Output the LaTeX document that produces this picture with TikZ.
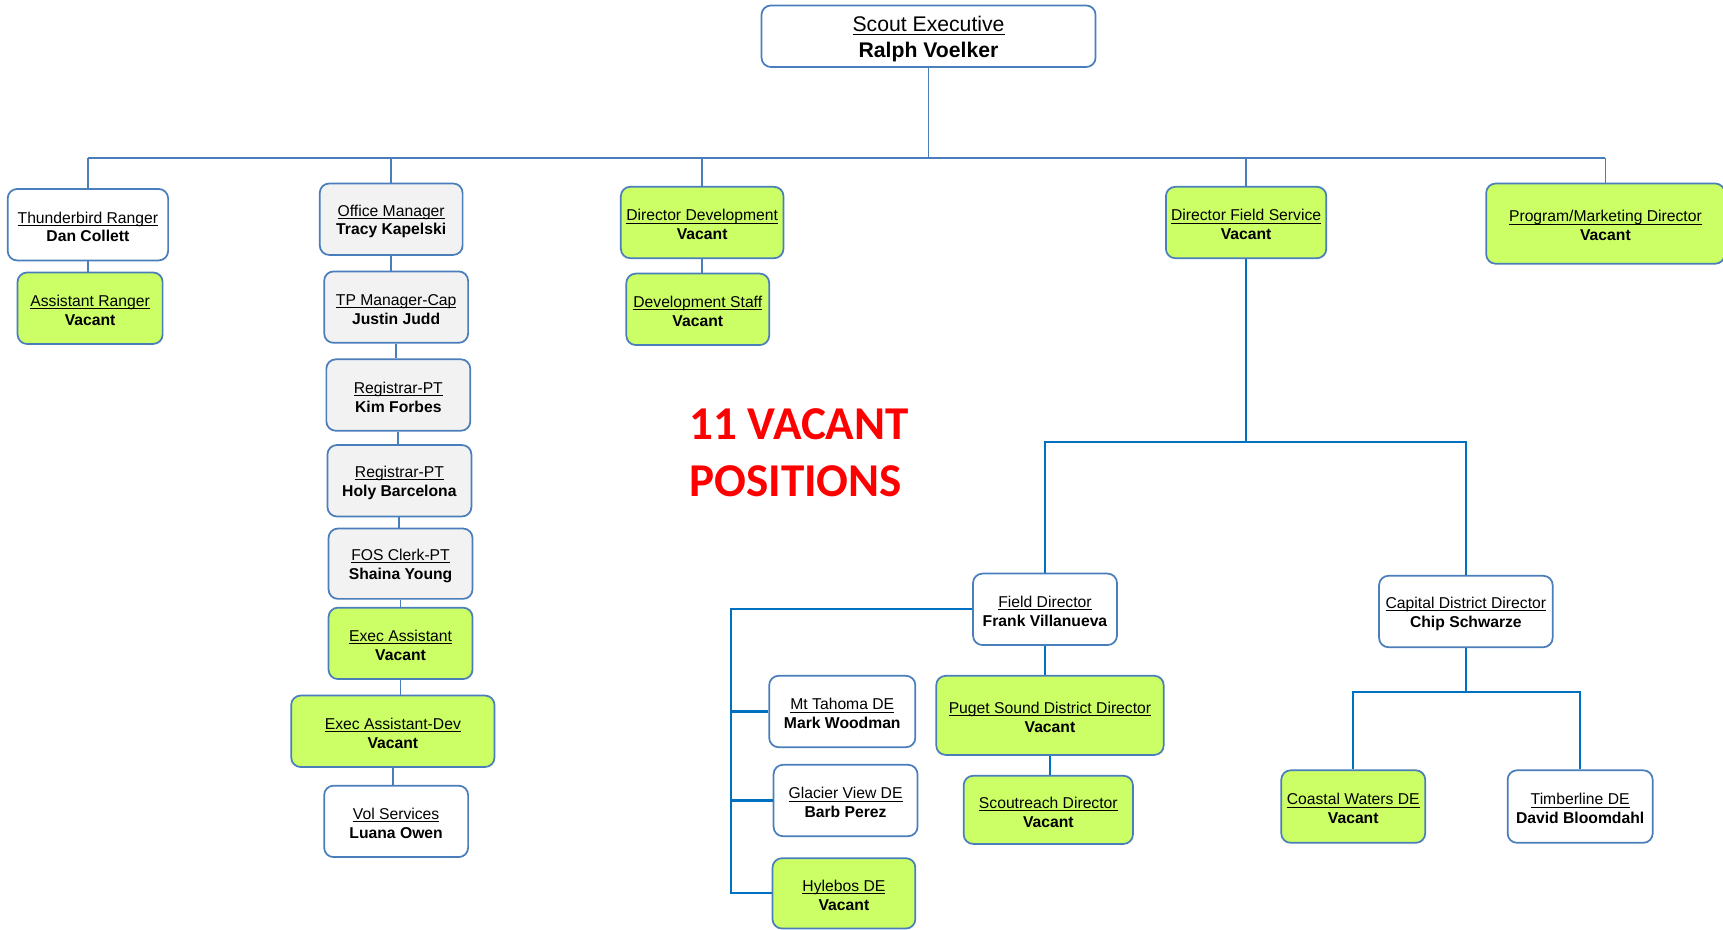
\documentclass[tikz,border=0pt]{standalone}
\usepackage{fontspec}
\setmainfont{Liberation Sans}
\newfontfamily\bannerfont{Carlito}

\definecolor{boxblue}{HTML}{4A7EBB}
\definecolor{branchblue}{HTML}{0070C0}
\definecolor{vacantgreen}{HTML}{CCFF66}
\definecolor{staffgray}{HTML}{F2F2F2}

\newcommand{\ulined}[1]{\leavevmode\setbox0=\hbox{#1}\rlap{\rule[-1.6pt]{\wd0}{0.5pt}}\box0}
\newcommand{\orgentry}[2]{\rule{0pt}{1em}\ulined{#1}\\\textbf{#2}}

\tikzset{
	orgbox/.style={draw=boxblue, line width=1.1pt, rounded corners=6pt, fill=white,
		align=center, inner sep=0pt, font=\fontsize{10}{12}\selectfont},
	vacant/.style={orgbox, fill=vacantgreen},
	staff/.style={orgbox, fill=staffgray},
	boxsize/.style 2 args={minimum width=#1*0.7pt, minimum height=#2*0.7pt},
	link/.style={draw=boxblue, line width=1.2pt},
	fieldlink/.style={draw=branchblue, line width=1.4pt},
}

\begin{document}
\begin{tikzpicture}[x=0.7pt, y=-0.7pt]
	\useasboundingbox (0,0) rectangle (1568,846);

	% top
	\node[orgbox, boxsize={304}{56}, font=\fontsize{13.5}{16.2}\selectfont] (exec) at (845,33)
		{\orgentry{Scout Executive}{Ralph Voelker}};

	% first row
	\node[orgbox, boxsize={146}{65}] (thunder)   at (80,204.5)
		{\orgentry{Thunderbird Ranger}{Dan Collett}};
	\node[staff,  boxsize={130}{65}] (office)    at (356,199.5)
		{\orgentry{Office Manager}{Tracy Kapelski}};
	\node[vacant, boxsize={148}{65}] (dirdev)    at (639,202.5)
		{\orgentry{Director Development}{Vacant}};
	\node[vacant, boxsize={146}{65}] (dfs)       at (1134,202.5)
		{\orgentry{Director Field Service}{Vacant}};
	\node[vacant, boxsize={217}{73}] (program)   at (1461,203.5)
		{\orgentry{Program/Marketing Director}{Vacant}};

	% under the first row
	\node[vacant, boxsize={132}{65}] (asstranger) at (82,280.5)
		{\orgentry{Assistant Ranger}{Vacant}};
	\node[vacant, boxsize={130}{65}] (devstaff)  at (635,281.5)
		{\orgentry{Development Staff}{Vacant}};

	% office column
	\node[staff,  boxsize={131}{65}] (tpman)     at (360.5,279.5)
		{\orgentry{TP Manager-Cap}{Justin Judd}};
	\node[staff,  boxsize={131}{65}] (regkim)    at (362.5,359.5)
		{\orgentry{Registrar-PT}{Kim Forbes}};
	\node[staff,  boxsize={131}{65}] (regholy)   at (363.5,437.5)
		{\orgentry{Registrar-PT}{Holy Barcelona}};
	\node[staff,  boxsize={131}{64}] (fos)       at (364.5,513)
		{\orgentry{FOS Clerk-PT}{Shaina Young}};
	\node[vacant, boxsize={131}{65}] (execasst)  at (364.5,585.5)
		{\orgentry{Exec Assistant}{Vacant}};
	\node[vacant, boxsize={185}{65}] (execdev)   at (357.5,665.5)
		{\orgentry{Exec Assistant-Dev}{Vacant}};
	\node[orgbox, boxsize={131}{65}] (volserv)   at (360.5,747.5)
		{\orgentry{Vol Services}{Luana Owen}};

	% field service
	\node[orgbox, boxsize={131}{65}] (fielddir)  at (951,554.5)
		{\orgentry{Field Director}{Frank Villanueva}};
	\node[orgbox, boxsize={158}{65}] (capital)   at (1334,556.5)
		{\orgentry{Capital District Director}{Chip Schwarze}};
	\node[orgbox, boxsize={133}{65}] (tahoma)    at (766.5,647.5)
		{\orgentry{Mt Tahoma DE}{Mark Woodman}};
	\node[orgbox, boxsize={131}{65}] (glacier)   at (769.5,728.5)
		{\orgentry{Glacier View DE}{Barb Perez}};
	\node[vacant, boxsize={130}{64}] (hylebos)   at (768,813)
		{\orgentry{Hylebos DE}{Vacant}};
	\node[vacant, boxsize={207}{72}] (puget)     at (955.5,651)
		{\orgentry{Puget Sound District Director}{Vacant}};
	\node[vacant, boxsize={154}{62}] (scoutreach) at (954,737)
		{\orgentry{Scoutreach Director}{Vacant}};
	\node[vacant, boxsize={131}{66}] (coastal)   at (1231.5,734)
		{\orgentry{Coastal Waters DE}{Vacant}};
	\node[orgbox, boxsize={132}{66}] (timber)    at (1438,734)
		{\orgentry{Timberline DE}{David Bloomdahl}};

	\node[anchor=north west, align=left, inner sep=0pt, text=red,
		font=\bannerfont\bfseries\fontsize{30}{36}\selectfont] (vacancies) at (627,372)
		{11 VACANT\\POSITIONS};

	% connectors
	\coordinate (bus) at (0,144);
	\draw[link] (thunder |- bus) -- (program |- bus);
	\draw[link] (exec) -- (exec |- bus);
	\foreach \n in {thunder, office, dirdev, dfs, program}
		\draw[link] (\n) -- (\n |- bus);
	\foreach \a/\b in {thunder/asstranger, dirdev/devstaff, office/tpman, tpman/regkim,
		regkim/regholy, regholy/fos, fos/execasst, execasst/execdev, execdev/volserv}
		\draw[link] (\a.south) -- (\a.south |- \b.north);

	\coordinate (fieldsplit) at (1134,402);
	\draw[fieldlink] (dfs) -- (dfs |- fieldsplit);
	\draw[fieldlink] (fielddir) -- (fielddir |- fieldsplit) -- (capital |- fieldsplit) -- (capital);

	\coordinate (despine) at (665,0);
	\draw[fieldlink] (fielddir.west) -- (fielddir.west -| despine) |- (hylebos.west);
	\foreach \n in {tahoma, glacier}
		\draw[fieldlink] (\n.west) -- (\n.west -| despine);
	\draw[fieldlink] (fielddir.south) -- (fielddir.south |- puget.north);
	\draw[fieldlink] (puget.south) -- (puget.south |- scoutreach.north);

	\coordinate (capsplit) at (0,630);
	\draw[fieldlink] (capital) -- (capital |- capsplit);
	\draw[fieldlink] (coastal) -- (coastal |- capsplit) -- (timber |- capsplit) -- (timber);
\end{tikzpicture}
\end{document}
